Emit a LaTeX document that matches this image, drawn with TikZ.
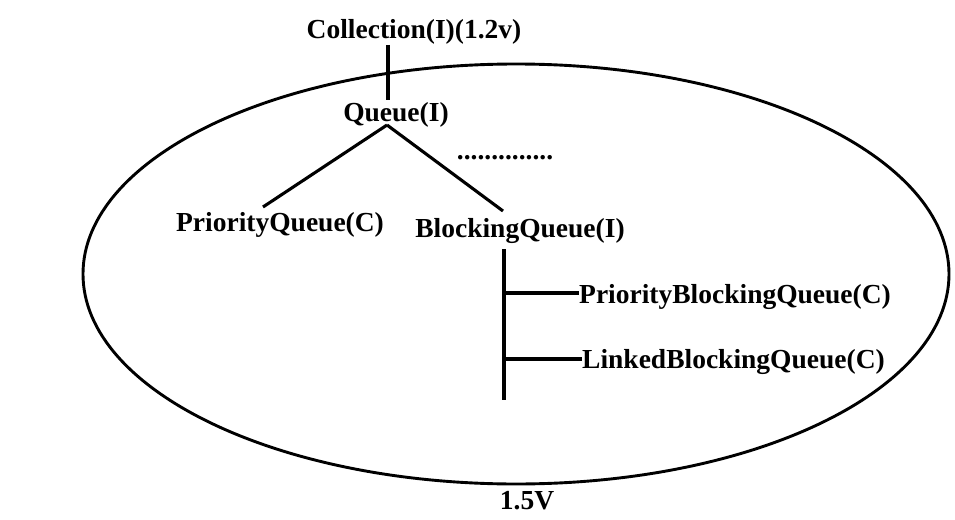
\documentclass[tikz,border=0pt]{standalone}
\usepackage{fontspec}
\setmainfont{Liberation Serif}
\begin{document}
\begin{tikzpicture}[x=1pt,y=-1pt,
  lbl/.style={font=\fontsize{27.5}{30}\selectfont\bfseries, inner sep=0pt},
  ln/.style={line width=3.1pt}]
\useasboundingbox (0,0) rectangle (955,519);
\draw[line width=2.9pt] (516,274) ellipse [x radius=433, y radius=210];
\node[lbl] (coll) at (414,32) {Collection(I)(1.2v)};
\node[lbl] (queue) at (396,115) {Queue(I)};
\node[lbl] (pq) at (280,225) {PriorityQueue(C)};
\node[lbl] (bq) at (520,231) {BlockingQueue(I)};
\node[lbl, anchor=west] (pbq) at (579,297) {PriorityBlockingQueue(C)};
\node[lbl, anchor=west] (lbq) at (582,362) {LinkedBlockingQueue(C)};
\node[lbl] (v15) at (527,501) {1.5V};
\node[lbl] (dots) at (505,158) {..............};
\coordinate (ct) at (388,45);
\coordinate (qa) at (387,125);
\coordinate (pqe) at (263,207);
\coordinate (bqe) at (503,211);
\coordinate (vt) at (504,249);
\coordinate (vb) at (504,400);
\coordinate (h1) at (504,293);
\coordinate (h2) at (504,359);
\draw[ln] (ct) -- (388,100);
\draw[ln] (qa) -- (pqe);
\draw[ln] (qa) -- (bqe);
\draw[ln] (vt) -- (vb);
\draw[ln] (h1) -- (h1 -| pbq.west);
\draw[ln] (h2) -- (h2 -| lbq.west);
\end{tikzpicture}
\end{document}
